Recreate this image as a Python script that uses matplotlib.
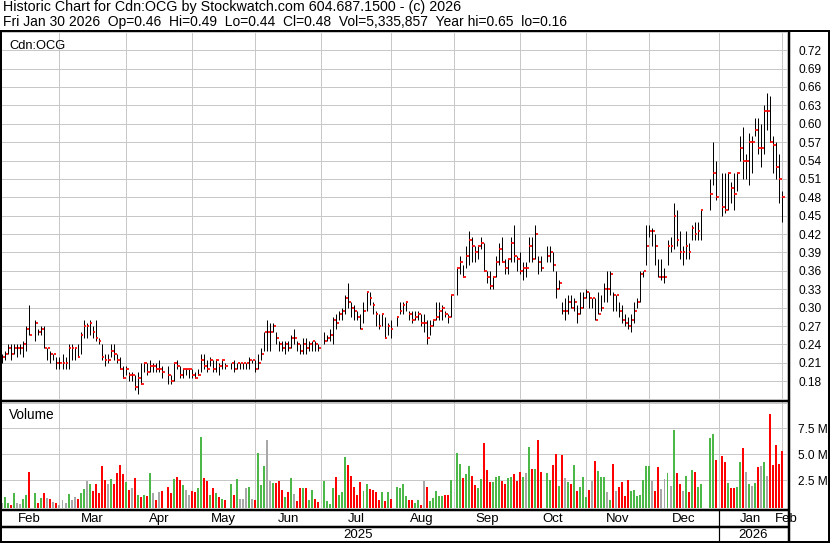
import matplotlib
matplotlib.use("Agg")
import matplotlib.pyplot as plt
import numpy as np
import pandas as pd
from matplotlib.lines import Line2D

plt.rcParams['font.family'] = ['Liberation Sans', 'DejaVu Sans']

# one slot per weekday, exchange holidays stay empty
days = pd.bdate_range("2025-02-03", "2026-01-30")
holidays = ["2025-02-17", "2025-04-18", "2025-05-19", "2025-07-01", "2025-08-04",
            "2025-09-01", "2025-10-13", "2025-12-25", "2025-12-26", "2026-01-01"]

# daily closes, one line per month
closes = [
    0.22, 0.225, 0.235, 0.225, 0.235, 0.235, 0.235, 0.24, 0.265, 0.255, 0.275, 0.26, 0.265, 0.235, 0.235, 0.225, 0.225, 0.21, 0.21,
    0.21, 0.21, 0.235, 0.235, 0.235, 0.22, 0.255, 0.27, 0.27, 0.275, 0.26, 0.25, 0.245, 0.22, 0.215, 0.215, 0.23, 0.225, 0.215, 0.20, 0.185,
    0.20, 0.19, 0.19, 0.17, 0.185, 0.175, 0.21, 0.195, 0.205, 0.205, 0.20, 0.20, 0.195, 0.19, 0.18, 0.21, 0.205, 0.19, 0.20, 0.20, 0.20,
    0.19, 0.185, 0.19, 0.215, 0.205, 0.20, 0.215, 0.20, 0.215, 0.205, 0.215, 0.205, 0.21, 0.20, 0.21, 0.21, 0.21, 0.21, 0.215, 0.215, 0.20,
    0.21, 0.225, 0.26, 0.26, 0.26, 0.27, 0.25, 0.24, 0.235, 0.24, 0.235, 0.25, 0.25, 0.24, 0.23, 0.24, 0.235, 0.24, 0.245, 0.24, 0.235,
    0.245, 0.25, 0.255, 0.28, 0.275, 0.29, 0.295, 0.315, 0.31, 0.30, 0.295, 0.285, 0.265, 0.295, 0.325, 0.315, 0.305, 0.29, 0.27, 0.29, 0.25, 0.27,
    0.265, 0.285, 0.295, 0.305, 0.31, 0.29, 0.28, 0.285, 0.29, 0.275, 0.275, 0.25, 0.27, 0.28, 0.285, 0.295, 0.30, 0.29, 0.285, 0.32,
    0.365, 0.375, 0.35, 0.385, 0.41, 0.40, 0.39, 0.40, 0.405, 0.36, 0.35, 0.335, 0.35, 0.375, 0.395, 0.375, 0.365, 0.38, 0.405, 0.385, 0.38,
    0.36, 0.365, 0.365, 0.40, 0.38, 0.42, 0.375, 0.365, 0.385, 0.39, 0.37, 0.33, 0.34, 0.295, 0.295, 0.31, 0.30, 0.31, 0.29, 0.30, 0.315, 0.325,
    0.315, 0.315, 0.28, 0.29, 0.30, 0.33, 0.33, 0.355, 0.32, 0.32, 0.295, 0.28, 0.275, 0.27, 0.28, 0.295, 0.31, 0.355, 0.36, 0.40,
    0.425, 0.425, 0.40, 0.35, 0.35, 0.35, 0.40, 0.40, 0.45, 0.41, 0.39, 0.39, 0.40, 0.39, 0.43, 0.42, 0.425, 0.46, 0.485, 0.52, 0.48,
    0.465, 0.46, 0.52, 0.495, 0.485, 0.52, 0.56, 0.54, 0.54, 0.57, 0.57, 0.59, 0.56, 0.56, 0.62, 0.62, 0.57, 0.565, 0.53, 0.51, 0.48,
]
highs = [
    0.225, 0.23, 0.24, 0.24, 0.24, 0.24, 0.24, 0.245, 0.27, 0.305, 0.28, 0.265, 0.27, 0.27, 0.235, 0.23, 0.225, 0.22, 0.22,
    0.225, 0.22, 0.24, 0.24, 0.235, 0.24, 0.26, 0.28, 0.275, 0.28, 0.27, 0.28, 0.25, 0.24, 0.225, 0.225, 0.24, 0.24, 0.225, 0.22, 0.205,
    0.205, 0.195, 0.195, 0.19, 0.195, 0.21, 0.21, 0.21, 0.215, 0.21, 0.21, 0.215, 0.205, 0.205, 0.19, 0.21, 0.215, 0.205, 0.20, 0.20, 0.20,
    0.20, 0.195, 0.20, 0.225, 0.225, 0.215, 0.22, 0.215, 0.215, 0.21, 0.215, 0.21, 0.21, 0.215, 0.21, 0.21, 0.21, 0.21, 0.22, 0.215, 0.215,
    0.225, 0.235, 0.26, 0.28, 0.275, 0.275, 0.26, 0.245, 0.245, 0.245, 0.245, 0.255, 0.265, 0.245, 0.24, 0.25, 0.25, 0.245, 0.245, 0.245, 0.24,
    0.26, 0.255, 0.265, 0.285, 0.29, 0.295, 0.30, 0.32, 0.34, 0.31, 0.305, 0.295, 0.29, 0.31, 0.325, 0.325, 0.31, 0.295, 0.29, 0.29, 0.285, 0.275,
    0.28, 0.285, 0.31, 0.31, 0.31, 0.295, 0.295, 0.295, 0.295, 0.29, 0.29, 0.28, 0.28, 0.28, 0.31, 0.31, 0.305, 0.295, 0.29, 0.32,
    0.365, 0.385, 0.37, 0.40, 0.425, 0.415, 0.40, 0.40, 0.415, 0.405, 0.36, 0.36, 0.35, 0.385, 0.405, 0.415, 0.38, 0.38, 0.415, 0.435, 0.385,
    0.39, 0.375, 0.375, 0.415, 0.415, 0.435, 0.385, 0.385, 0.40, 0.40, 0.39, 0.36, 0.345, 0.31, 0.315, 0.32, 0.32, 0.315, 0.305, 0.325, 0.325, 0.33,
    0.325, 0.315, 0.315, 0.325, 0.32, 0.34, 0.36, 0.36, 0.325, 0.32, 0.31, 0.305, 0.29, 0.285, 0.29, 0.31, 0.315, 0.36, 0.36, 0.435,
    0.435, 0.43, 0.42, 0.38, 0.38, 0.365, 0.41, 0.415, 0.47, 0.46, 0.425, 0.40, 0.425, 0.405, 0.435, 0.44, 0.44, 0.46, 0.51, 0.57, 0.54,
    0.52, 0.52, 0.52, 0.505, 0.52, 0.52, 0.58, 0.595, 0.55, 0.585, 0.58, 0.61, 0.61, 0.60, 0.63, 0.65, 0.645, 0.58, 0.57, 0.55, 0.49,
]
lows = [
    0.21, 0.215, 0.225, 0.215, 0.225, 0.22, 0.225, 0.22, 0.23, 0.255, 0.245, 0.255, 0.255, 0.235, 0.215, 0.21, 0.215, 0.20, 0.20,
    0.20, 0.20, 0.20, 0.215, 0.215, 0.22, 0.225, 0.25, 0.25, 0.255, 0.25, 0.245, 0.24, 0.215, 0.205, 0.21, 0.22, 0.215, 0.21, 0.20, 0.185,
    0.19, 0.18, 0.18, 0.165, 0.16, 0.175, 0.195, 0.19, 0.195, 0.195, 0.195, 0.195, 0.185, 0.175, 0.175, 0.18, 0.20, 0.185, 0.185, 0.19, 0.185,
    0.185, 0.185, 0.19, 0.195, 0.20, 0.195, 0.205, 0.195, 0.195, 0.19, 0.20, 0.20, 0.20, 0.195, 0.20, 0.20, 0.20, 0.20, 0.20, 0.21, 0.195,
    0.20, 0.215, 0.23, 0.23, 0.23, 0.26, 0.24, 0.23, 0.23, 0.225, 0.23, 0.235, 0.24, 0.23, 0.225, 0.225, 0.225, 0.23, 0.23, 0.23, 0.23,
    0.24, 0.245, 0.245, 0.24, 0.265, 0.28, 0.28, 0.29, 0.30, 0.285, 0.28, 0.28, 0.265, 0.275, 0.295, 0.305, 0.29, 0.27, 0.265, 0.27, 0.25, 0.255,
    0.25, 0.27, 0.29, 0.29, 0.295, 0.28, 0.275, 0.28, 0.28, 0.27, 0.26, 0.24, 0.255, 0.27, 0.28, 0.28, 0.28, 0.285, 0.275, 0.285,
    0.32, 0.355, 0.35, 0.365, 0.37, 0.375, 0.375, 0.38, 0.395, 0.36, 0.34, 0.33, 0.33, 0.35, 0.37, 0.375, 0.355, 0.355, 0.375, 0.375, 0.36,
    0.355, 0.345, 0.35, 0.375, 0.375, 0.38, 0.355, 0.36, 0.375, 0.375, 0.36, 0.315, 0.33, 0.29, 0.28, 0.29, 0.30, 0.295, 0.275, 0.29, 0.30, 0.315,
    0.30, 0.30, 0.28, 0.29, 0.295, 0.31, 0.31, 0.32, 0.295, 0.295, 0.285, 0.275, 0.27, 0.265, 0.26, 0.275, 0.30, 0.31, 0.35, 0.37,
    0.415, 0.40, 0.37, 0.35, 0.345, 0.34, 0.37, 0.39, 0.395, 0.40, 0.38, 0.37, 0.38, 0.38, 0.41, 0.41, 0.41, 0.41, 0.46, 0.50, 0.475,
    0.45, 0.455, 0.46, 0.47, 0.46, 0.49, 0.54, 0.51, 0.51, 0.50, 0.52, 0.58, 0.55, 0.53, 0.55, 0.59, 0.57, 0.52, 0.51, 0.47, 0.44,
]
# daily volume, millions of shares
volumes = [
    0.3, 0.9, 0.3, 0.1, 1.2, 0.3, 0.2, 0.65, 1.05, 3.3, 1.2, 0.27, 0.75, 1.2, 0.75, 0.65, 0.37, 0.27, 0.1,
    0.55, 0.3, 1.1, 0.55, 0.85, 0.65, 1.2, 1.6, 2.4, 2.1, 1.45, 2.1, 1.25, 3.85, 2.5, 2.1, 2.6, 2.1, 3.2, 3.95, 3.1,
    2.3, 1.5, 1.7, 2.7, 1.05, 0.9, 1.05, 0.95, 3.15, 1.25, 0.55, 1.35, 1.45, 1.8, 1.25, 2.6, 2.75, 2.5, 2.05, 1.5, 1.05,
    1.45, 1.35, 1.75, 6.7, 2.7, 2.4, 1.05, 1.75, 1.25, 0.9, 0.65, 0.55, 2.1, 1.05, 2.6, 0.65, 0.65, 1.7, 1.8, 0.65, 0.55,
    5.1, 2.0, 3.85, 6.4, 2.4, 2.2, 2.2, 2.4, 1.5, 0.9, 1.3, 2.7, 1.1, 0.45, 1.7, 1.7, 1.7, 0.55, 1.5, 0.7, 0.35,
    2.45, 0.45, 0.17, 1.7, 2.75, 1.05, 1.35, 4.7, 3.95, 2.9, 1.8, 1.05, 2.3, 1.45, 2.1, 1.6, 1.5, 1.35, 0.55, 1.35, 0.45, 1.35,
    0.65, 1.8, 1.7, 2.1, 1.0, 0.6, 0.55, 0.24, 0.55, 0.08, 2.4, 1.8, 0.45, 0.75, 1.45, 0.95, 0.95, 1.05, 1.05, 2.5,
    5.1, 4.05, 2.7, 3.1, 3.85, 2.9, 2.0, 1.7, 2.6, 6.1, 3.45, 2.3, 2.3, 2.8, 2.9, 2.4, 2.1, 2.7, 2.8, 3.1, 2.4,
    3.3, 2.8, 3.2, 5.7, 3.6, 3.6, 6.4, 3.3, 3.2, 2.5, 3.95, 5.0, 1.9, 4.95, 2.7, 2.3, 2.1, 3.95, 1.45, 1.8, 2.8, 0.9,
    1.5, 2.4, 4.3, 3.4, 2.8, 2.8, 1.35, 0.55, 4.05, 1.45, 1.8, 2.3, 0.95, 2.5, 1.45, 1.5, 0.95, 1.05, 2.5, 3.85,
    3.85, 2.4, 1.45, 3.75, 1.6, 2.6, 3.2, 1.9, 7.3, 3.2, 2.1, 1.45, 2.9, 1.35, 3.45, 3.3, 1.8, 2.1, 6.55, 6.95, 4.4,
    4.8, 4.25, 2.2, 1.7, 1.7, 1.8, 4.25, 5.6, 3.3, 2.1, 1.9, 2.2, 3.75, 3.85, 4.25, 2.9, 8.9, 3.95, 5.9, 4.1, 5.3,
]

price_ticks = [0.18, 0.21, 0.24, 0.27, 0.30, 0.33, 0.36, 0.39, 0.42, 0.45, 0.48, 0.51, 0.54, 0.57, 0.60, 0.63, 0.66, 0.69, 0.72]
vol_ticks = [2.5, 5.0, 7.5]
month_names = ["Feb", "Mar", "Apr", "May", "Jun", "Jul", "Aug", "Sep", "Oct", "Nov", "Dec", "Jan", "Feb"]
header1 = "Historic Chart for Cdn:OCG by Stockwatch.com 604.687.1500 - (c) 2026"
header2 = "Fri Jan 30 2026  Op=0.46  Hi=0.49  Lo=0.44  Cl=0.48  Vol=5,335,857  Year hi=0.65  lo=0.16"

trade = days[~days.isin(pd.to_datetime(holidays))]
assert len(trade) == len(closes) == len(highs) == len(lows) == len(volumes)
x = np.array([days.get_loc(d) for d in trade])
closes = np.array(closes)
highs = np.array(highs)
lows = np.array(lows)
volumes = np.array(volumes)

chg = np.diff(closes, prepend=closes[0])
bar_cols = np.where(chg > 0, '#4cb848', np.where(chg < 0, '#ff0000', '#a8a8a8'))

# month grid: last weekday on or before the first of each month
month_firsts = pd.date_range("2025-03-01", "2026-02-01", freq="MS")
month_pos = [np.searchsorted(days.values, m.to_datetime64(), side="right") - 1 for m in month_firsts]

W, H = 830, 543
PX = 0.72
fig = plt.figure(figsize=(W / 100, H / 100), dpi=100)


def box(x0, y0, x1, y1):
    return [x0 / W, 1 - y1 / H, (x1 - x0) / W, (y1 - y0) / H]


def hline(y, x0, x1, w):
    fig.add_artist(Line2D([x0 / W, x1 / W], [1 - y / H, 1 - y / H], color='black', lw=w * PX,
                          transform=fig.transFigure, solid_capstyle='butt', zorder=10))


def vline(xp, y0, y1, w):
    fig.add_artist(Line2D([xp / W, xp / W], [1 - y0 / H, 1 - y1 / H], color='black', lw=w * PX,
                          transform=fig.transFigure, solid_capstyle='butt', zorder=10))


XL = (-0.1, 260.7)
grid_kw = dict(color='#c8c8c8', lw=1 * PX)

# price panel
axp = fig.add_axes(box(2, 31, 787, 399))
axp.set_xlim(*XL)
axp.set_ylim(0.1511, 0.7512)
for m in month_pos:
    axp.axvline(m, **grid_kw, zorder=0)
for t in price_ticks + [0.75]:
    axp.axhline(t, **grid_kw, zorder=0)
axp.vlines(x, lows, highs, color='black', lw=1 * PX, zorder=2)
axp.hlines(closes, x + 0.15, x + 0.95, color='#ff0000', lw=1.7 * PX, zorder=3)
axp.set_xticks([])
axp.set_yticks(price_ticks)
axp.set_yticklabels([f"{t:.2f}" for t in price_ticks])
axp.tick_params(axis='y', left=False, labelleft=False, right=False, labelright=True,
                labelsize=8.6, pad=4.5)
for s in axp.spines.values():
    s.set_visible(False)
axp.text(0.009, 0.976, "Cdn:OCG", transform=axp.transAxes, fontsize=9.3, va='top', ha='left')

# volume panel
axv = fig.add_axes(box(2, 402, 787, 508))
axv.set_xlim(*XL)
vbot = -0.21
axv.set_ylim(vbot, 10.06)
for m in month_pos:
    axv.axvline(m, **grid_kw, zorder=0)
for t in vol_ticks + [10.0]:
    axv.axhline(t, **grid_kw, zorder=0)
axv.bar(x, volumes - vbot, bottom=vbot, width=0.66, color=bar_cols, zorder=2)
axv.set_xticks([])
axv.set_yticks(vol_ticks)
axv.set_yticklabels([f"{t:.1f} M" for t in vol_ticks])
axv.tick_params(axis='y', left=False, labelleft=False, right=False, labelright=True,
                labelsize=8.6, pad=4.5)
for s in axv.spines.values():
    s.set_visible(False)
axv.text(0.009, 0.94, "Volume", transform=axv.transAxes, fontsize=9.8, va='top', ha='left')

# month strip
axm = fig.add_axes(box(2, 511, 787, 526))
axm.set_xlim(*XL)
axm.set_ylim(0, 1)
axm.axis('off')
edges = [XL[0] - 1.2] + month_pos
for i, name in enumerate(month_names[:-1]):
    axm.text((edges[i] + edges[i + 1]) / 2, 0.45, name, ha='center', va='center', fontsize=9.5)
axm.text(month_pos[-1] + 1.3, 0.45, month_names[-1], ha='center', va='center', fontsize=9.5, clip_on=False)

# year strip
axy = fig.add_axes(box(2, 528, 787, 541))
axy.set_xlim(*XL)
axy.set_ylim(0, 1)
axy.axis('off')
jan = month_pos[10]
axy.text((XL[0] - 1.2 + jan) / 2, 0.45, "2025", ha='center', va='center', fontsize=9.5)
axy.text((jan + XL[1]) / 2, 0.45, "2026", ha='center', va='center', fontsize=9.5)

# header
fig.text(2.7 / W, 1 - 11.3 / H, header1, fontsize=10.3, ha='left', va='baseline')
fig.text(2.7 / W, 1 - 25.8 / H, header2, fontsize=10, ha='left', va='baseline')

# frame
hline(31, 0, 830, 2)
vline(1, 30, 543, 2)
vline(788.5, 30, 543, 2.5)
vline(829, 30, 543, 2)
hline(401, 0, 789, 2.5)
hline(510, 0, 789, 2.5)
hline(526.5, 0, 789, 2.5)
hline(542, 0, 830, 2)
vline(2 + (jan - XL[0]) * 785 / (XL[1] - XL[0]), 510, 542, 1.2)

fig.savefig("out.png", dpi=100)
